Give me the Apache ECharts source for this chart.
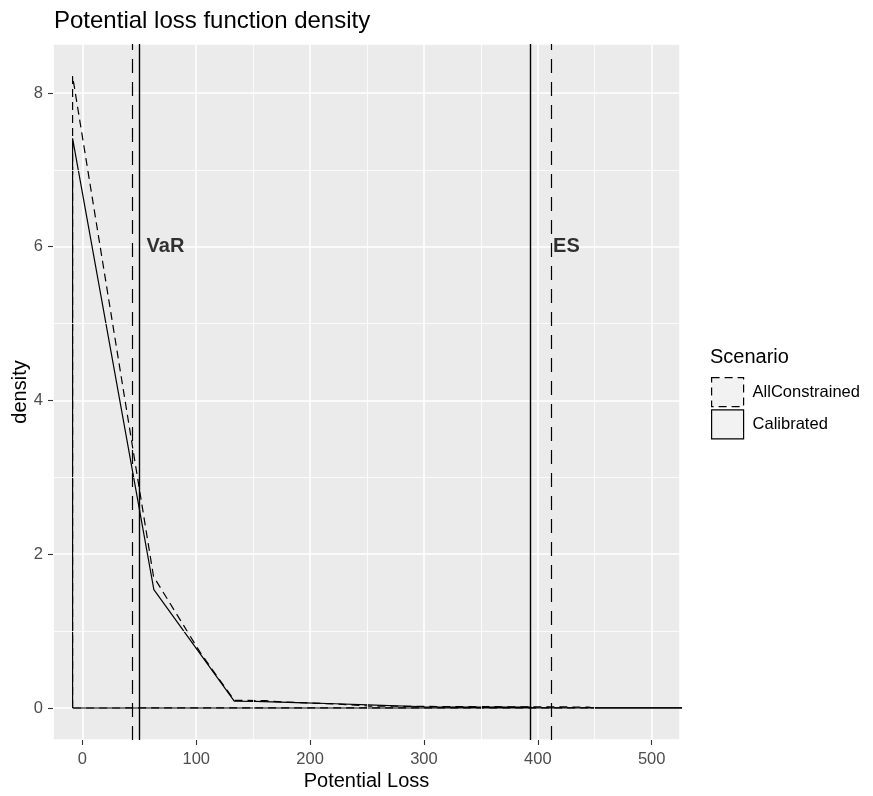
<!DOCTYPE html>
<html>
<head>
<meta charset="utf-8">
<script src="https://cdn.jsdelivr.net/npm/echarts@6/dist/echarts.min.js"></script>
<style>
  html, body { margin: 0; padding: 0; background: #ffffff; }
  #chart { width: 873px; height: 796px; }
</style>
</head>
<body>
<div id="chart"></div>
<script>
// ---- data ----
const scenarios = ['AllConstrained', 'Calibrated'];

// density outline (polygon) of each scenario: x = potential loss, y = density
const allConstrainedX = [-8.6, -8.6, 62.5, 104, 133.4, 160, 175, 200, 225, 252, 300, 393, 445, 447, 540, 540, -8.6];
const allConstrainedY = [0, 8.22, 1.71, 0.71, 0.10, 0.095, 0.08, 0.065, 0.05, 0.025, 0.02, 0.015, 0.012, 0.002, 0.001, 0, 0];

const calibratedX = [-8.6, -8.6, 62.8, 133.4, 152, 153, 188, 189, 222, 223, 251, 252, 300, 393, 395, 540, 540, -8.6];
const calibratedY = [0, 7.41, 1.54, 0.09, 0.085, 0.075, 0.07, 0.06, 0.055, 0.045, 0.04, 0.022, 0.016, 0.01, 0.004, 0.002, 0, 0];

// risk measures per scenario (same order as scenarios)
const varValues = [43.9, 50.3];
const esValues = [411.9, 393.5];

// text annotations
const annotationLabels = ['VaR', 'ES'];
const annotationX = [56.4, 413.4];
const annotationY = [6, 6];

// axes
const xTickMinor = [50, 150, 250, 350, 450];
const yTickMinor = [1, 3, 5, 7];
const xRange = [-25.8, 524.9];
const yRange = [-0.4165, 8.637];

// ---- chart ----
const FONT = "'Liberation Sans', Arial, sans-serif";
const pairs = (xs, ys) => xs.map((x, i) => [x, ys[i]]);

const chart = echarts.init(document.getElementById('chart'), null, { renderer: 'canvas' });

const dashedLine = [8, 5];
const vDash = [14, 9];

const option = {
  animation: false,
  backgroundColor: '#ffffff',
  textStyle: { fontFamily: FONT },
  title: [
    {
      text: 'Potential loss function density',
      left: 54, top: 9, padding: 0,
      textStyle: { fontFamily: FONT, fontSize: 24, fontWeight: 'normal', color: '#000000' }
    },
    {
      text: 'Scenario',
      left: 710, top: 347, padding: 0,
      textStyle: { fontFamily: FONT, fontSize: 20, fontWeight: 'normal', color: '#000000' }
    }
  ],
  legend: {
    orient: 'vertical',
    left: 711, top: 377,
    padding: 0,
    itemGap: 2,
    itemWidth: 32,
    itemHeight: 29,
    selectedMode: false,
    textStyle: { fontFamily: FONT, fontSize: 16.5, color: '#000000', padding: [0, 0, 0, 4] },
    data: [
      { name: scenarios[0], icon: 'rect',
        itemStyle: { color: '#F2F2F2', borderColor: '#000000', borderWidth: 1.2, borderType: dashedLine } },
      { name: scenarios[1], icon: 'rect',
        itemStyle: { color: '#F2F2F2', borderColor: '#000000', borderWidth: 1.2, borderType: 'solid' } }
    ]
  },
  grid: {
    left: 53, top: 44, width: 627, height: 696,
    show: true, backgroundColor: '#EBEBEB', borderWidth: 0,
    containLabel: false,
    outerBoundsMode: 'none'
  },
  xAxis: {
    type: 'value',
    position: 'bottom',
    min: xRange[0], max: xRange[1],
    splitNumber: 5,
    name: 'Potential Loss',
    nameLocation: 'middle',
    nameGap: 31,
    nameMoveOverlap: false,
    nameTextStyle: { fontFamily: FONT, fontSize: 20, color: '#000000' },
    axisLine: { show: false, onZero: false },
    axisTick: { show: true, length: 5, lineStyle: { color: '#333333', width: 1.1 } },
    axisLabel: { showMinLabel: false, showMaxLabel: false, margin: 11,
      fontFamily: FONT, fontSize: 16.5, color: '#4D4D4D' },
    splitLine: { show: true, lineStyle: { color: '#FFFFFF', width: 1.6 } }
  },
  yAxis: {
    type: 'value',
    position: 'left',
    min: yRange[0], max: yRange[1],
    splitNumber: 4,
    name: 'density',
    nameLocation: 'middle',
    nameGap: 23,
    nameRotate: 90,
    nameMoveOverlap: false,
    nameTextStyle: { fontFamily: FONT, fontSize: 20, color: '#000000' },
    axisLine: { show: false, onZero: false },
    axisTick: { show: true, length: 5, lineStyle: { color: '#333333', width: 1.1 } },
    axisLabel: { showMinLabel: false, showMaxLabel: false, margin: 10,
      fontFamily: FONT, fontSize: 16.5, color: '#4D4D4D' },
    splitLine: { show: true, lineStyle: { color: '#FFFFFF', width: 1.6 } }
  },
  series: [
    {
      // minor grid lines
      name: 'minor-grid',
      type: 'line',
      data: [],
      z: 1,
      silent: true,
      markLine: {
        silent: true,
        symbol: 'none',
        animation: false,
        label: { show: false },
        lineStyle: { color: '#FFFFFF', width: 0.8, type: 'solid' },
        data: xTickMinor.map(v => ({ xAxis: v })).concat(yTickMinor.map(v => ({ yAxis: v })))
      }
    },
    {
      name: scenarios[0],
      type: 'line',
      data: pairs(allConstrainedX, allConstrainedY),
      showSymbol: false,
      symbol: 'none',
      clip: true,
      z: 3,
      lineStyle: { color: '#000000', width: 1.2, type: dashedLine },
      itemStyle: { color: '#000000' },
      markLine: {
        silent: true,
        symbol: 'none',
        label: { show: false },
        lineStyle: { color: '#000000', width: 1.2, type: vDash },
        data: [{ xAxis: varValues[0] }, { xAxis: esValues[0] }]
      }
    },
    {
      name: scenarios[1],
      type: 'line',
      data: pairs(calibratedX, calibratedY),
      showSymbol: false,
      symbol: 'none',
      clip: true,
      z: 3,
      lineStyle: { color: '#000000', width: 1.2, type: 'solid' },
      itemStyle: { color: '#000000' },
      markLine: {
        silent: true,
        symbol: 'none',
        label: { show: false },
        lineStyle: { color: '#000000', width: 1.4, type: 'solid' },
        data: [{ xAxis: varValues[1] }, { xAxis: esValues[1] }]
      }
    },
    {
      name: 'annotations',
      type: 'scatter',
      symbolSize: 0,
      silent: true,
      z: 4,
      data: annotationLabels.map((t, i) => ({ value: [annotationX[i], annotationY[i]], name: t })),
      label: {
        show: true,
        position: 'right',
        distance: 0,
        formatter: p => p.name,
        fontFamily: FONT, fontSize: 20, fontWeight: 'bold', color: '#000000'
      }
    }
  ]
};

chart.setOption(option);
</script>
</body>
</html>
